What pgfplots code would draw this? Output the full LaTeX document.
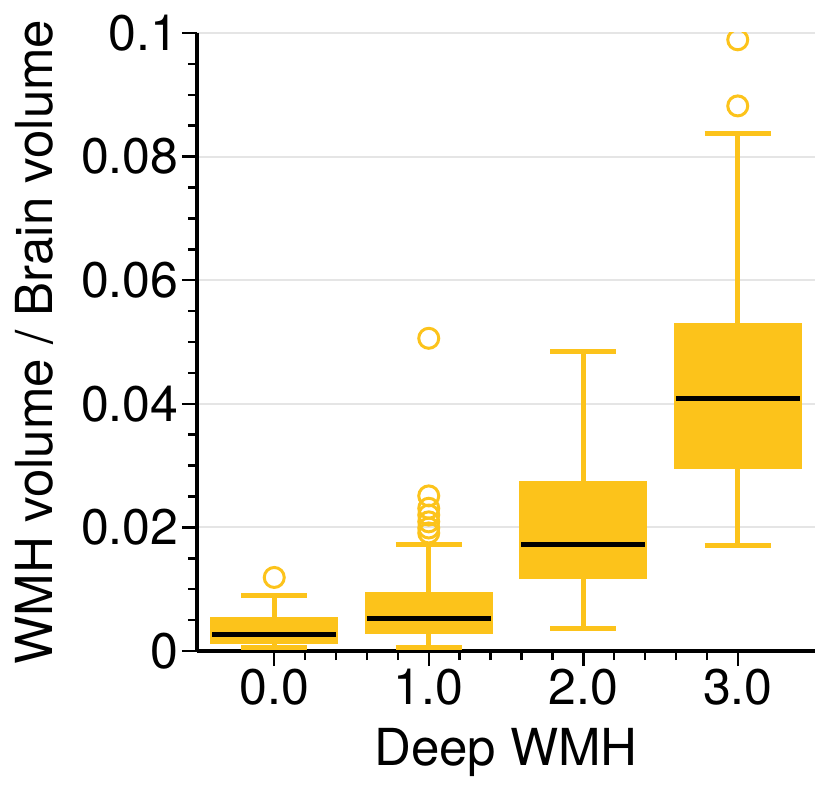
\documentclass[border=0pt]{standalone}
\usepackage{fontspec}
\setmainfont{TeX Gyre Heros}
\usepackage{pgfplots}
\pgfplotsset{compat=1.18}
\definecolor{gold}{RGB}{252,195,27}
\definecolor{gridgray}{RGB}{229,229,229}
\begin{document}
\begin{tikzpicture}
\begin{axis}[
  at={(0,0)}, anchor=south west,
  scale only axis, width=618pt, height=618pt,
  xmin=-0.5, xmax=3.5, ymin=0, ymax=0.1,
  axis x line*=bottom, axis y line*=left,
  axis line style={line width=4pt, black},
  xtick={0,1,2,3}, xticklabels={0.0,1.0,2.0,3.0},
  minor x tick num=4,
  ytick={0,0.02,0.04,0.06,0.08,0.1}, minor y tick num=3,
  tick align=outside,
  major tick length=15pt, minor tick length=9pt,
  every tick/.style={black, line width=2.5pt},
  ymajorgrids, grid style={gridgray, line width=2pt},
  scaled y ticks=false,
  yticklabel style={/pgf/number format/fixed, /pgf/number format/precision=2},
  /pgf/number format/assume math mode=true,
  tick label style={font=\fontsize{50}{60}\selectfont},
  xlabel={Deep WMH}, ylabel={WMH volume / Brain volume},
  label style={font=\fontsize{51}{60}\selectfont},
  xlabel style={at={(axis description cs:0.5,-0.1845)}, anchor=base},
  ylabel style={at={(axis description cs:-0.2346,0.5)}, anchor=base},
  clip marker paths=true,
  unbounded coords=jump,
]
% whiskers and caps
\addplot[gold, line width=5pt, no marks] coordinates {
 (0,0.0055) (0,0.0089) (nan,nan) (-0.215,0.0089) (0.215,0.0089) (nan,nan)
 (0,0.0011) (0,0.0005) (nan,nan) (-0.215,0.0005) (0.215,0.0005)};
\addplot[gold, line width=5pt, no marks] coordinates {
 (1,0.0095) (1,0.0172) (nan,nan) (0.785,0.0172) (1.215,0.0172) (nan,nan)
 (1,0.0028) (1,0.0005) (nan,nan) (0.785,0.0005) (1.215,0.0005)};
\addplot[gold, line width=5pt, no marks] coordinates {
 (2,0.0275) (2,0.0484) (nan,nan) (1.785,0.0484) (2.215,0.0484) (nan,nan)
 (2,0.0117) (2,0.0037) (nan,nan) (1.785,0.0037) (2.215,0.0037)};
\addplot[gold, line width=5pt, no marks] coordinates {
 (3,0.0531) (3,0.0837) (nan,nan) (2.785,0.0837) (3.215,0.0837) (nan,nan)
 (3,0.0295) (3,0.0170) (nan,nan) (2.785,0.0170) (3.215,0.0170)};
% boxes (lower quartile to upper quartile)
\addplot[fill=gold, draw=none, no marks] coordinates {(-0.415,0.0011) (0.415,0.0011) (0.415,0.0055) (-0.415,0.0055)} --cycle;
\addplot[fill=gold, draw=none, no marks] coordinates {(0.585,0.0028) (1.415,0.0028) (1.415,0.0095) (0.585,0.0095)} --cycle;
\addplot[fill=gold, draw=none, no marks] coordinates {(1.585,0.0117) (2.415,0.0117) (2.415,0.0275) (1.585,0.0275)} --cycle;
\addplot[fill=gold, draw=none, no marks] coordinates {(2.585,0.0295) (3.415,0.0295) (3.415,0.0531) (2.585,0.0531)} --cycle;
% medians
\addplot[black, line width=5pt, no marks] coordinates {(-0.40,0.0026) (0.40,0.0026) (nan,nan) (0.60,0.0053) (1.40,0.0053) (nan,nan) (1.60,0.0172) (2.40,0.0172) (nan,nan) (2.60,0.0408) (3.40,0.0408)};
% outliers
\addplot[only marks, mark=o, mark size=10pt, gold, line width=3pt] coordinates {
 (0,0.0119)
 (1,0.0506) (1,0.0251) (1,0.0231) (1,0.0220) (1,0.0209) (1,0.0199) (1,0.0191)
 (3,0.0882) (3,0.0989)};
\end{axis}
\pgfresetboundingbox
\useasboundingbox (-197pt,-144pt) rectangle (633pt,651pt);
\end{tikzpicture}
\end{document}
